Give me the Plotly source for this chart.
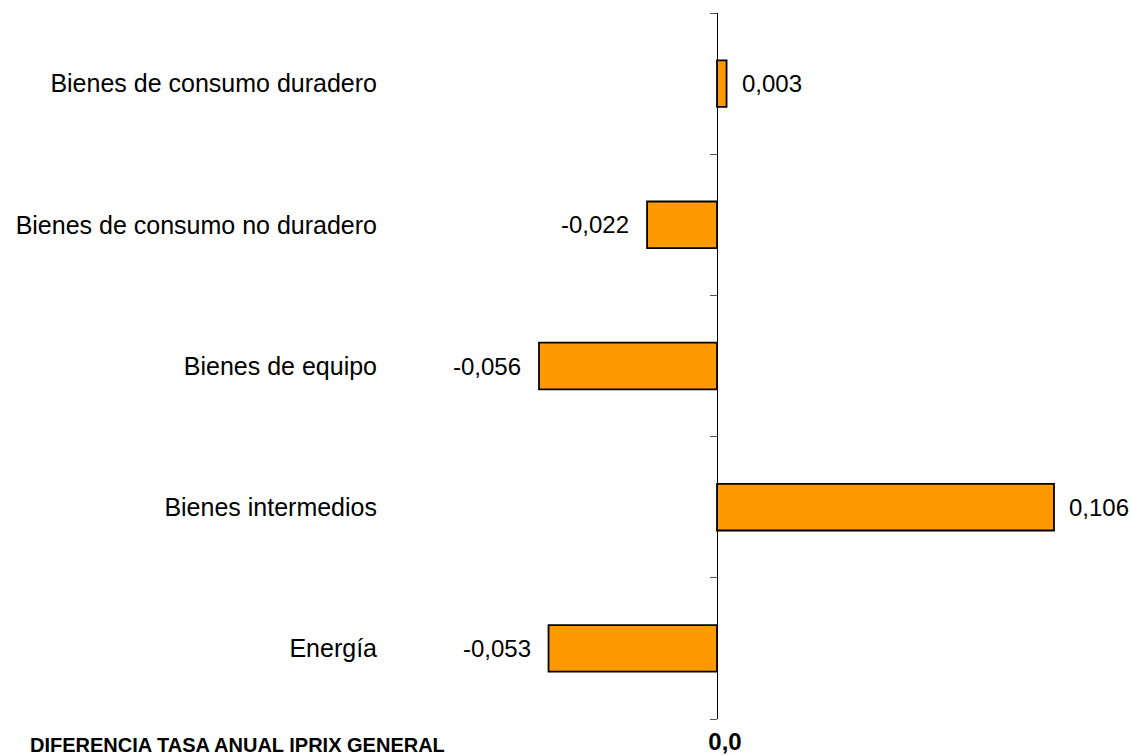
import plotly.graph_objects as go

categories = ["Bienes de consumo duradero", "Bienes de consumo no duradero",
              "Bienes de equipo", "Bienes intermedios", "Energía"]
values = [0.003, -0.022, -0.056, 0.106, -0.053]
value_labels = ["0,003", "-0,022", "-0,056", "0,106", "-0,053"]
axis_title = "DIFERENCIA TASA ANUAL IPRIX GENERAL"
zero_label = "0,0"

FONT = "Arial, 'Liberation Sans', sans-serif"

L, R, T, B = 385, 15, 13, 36
W, H = 1131, 755
plot_w = W - L - R
x0_px = 717
xrange = [-0.10444, 0.12551]

fig = go.Figure()
fig.add_trace(go.Bar(
    y=categories, x=values, orientation="h", width=0.33,
    marker=dict(color="#FF9900", line=dict(color="black", width=1.8)),
    hoverinfo="skip", showlegend=False, cliponaxis=False,
))
# invisible trace to make the tick axis at x=0 render
fig.add_trace(go.Scatter(x=[0], y=[0], yaxis="y2", mode="markers",
                         marker=dict(opacity=0), showlegend=False, hoverinfo="skip"))

annotations = []
for c, v, t in zip(categories, values, value_labels):
    annotations.append(dict(
        x=v, y=c, xref="x", yref="y", text=t, showarrow=False,
        xanchor="left" if v >= 0 else "right",
        xshift=13 if v >= 0 else -16,
        font=dict(family=FONT, size=24, color="black"),
    ))
annotations.append(dict(
    x=(28 - L) / plot_w, y=0, xref="paper", yref="paper", yshift=-26,
    xanchor="left", yanchor="middle",
    text="<b>" + axis_title + "</b>",
    showarrow=False, font=dict(family=FONT, size=20, color="black"),
))

fig.update_layout(
    width=W, height=H, margin=dict(l=L, r=R, t=T, b=B, autoexpand=False),
    plot_bgcolor="white", paper_bgcolor="white", bargap=0.67,
    font=dict(family=FONT, size=24, color="black"),
    xaxis=dict(range=xrange, showgrid=False, zeroline=False, showline=False,
               automargin=False,
               tickmode="array", tickvals=[0], ticktext=["<b>" + zero_label + "</b>"],
               ticks="", ticklabelstandoff=6, ticklabelshift=8,
               tickfont=dict(family=FONT, size=24, color="black")),
    yaxis=dict(categoryorder="array", categoryarray=categories, autorange="reversed",
               showgrid=False, zeroline=False, showline=False, ticks="",
               automargin=False, ticklabelstandoff=7,
               tickfont=dict(family=FONT, size=25, color="black")),
    yaxis2=dict(overlaying="y", anchor="free", position=(x0_px - L) / plot_w,
                side="left", range=[4.5, -0.5], showgrid=False, zeroline=False,
                automargin=False,
                showline=True, linecolor="black", linewidth=1,
                tickmode="array", tickvals=[-0.5, 0.5, 1.5, 2.5, 3.5, 4.5],
                ticks="outside", ticklen=7, tickcolor="#555", tickwidth=1,
                showticklabels=False),
    annotations=annotations,
)

fig.write_html("out.html", config={"displayModeBar": False},
               post_script="document.body.style.margin='0';document.body.style.padding='0';document.body.style.overflow='hidden';")
